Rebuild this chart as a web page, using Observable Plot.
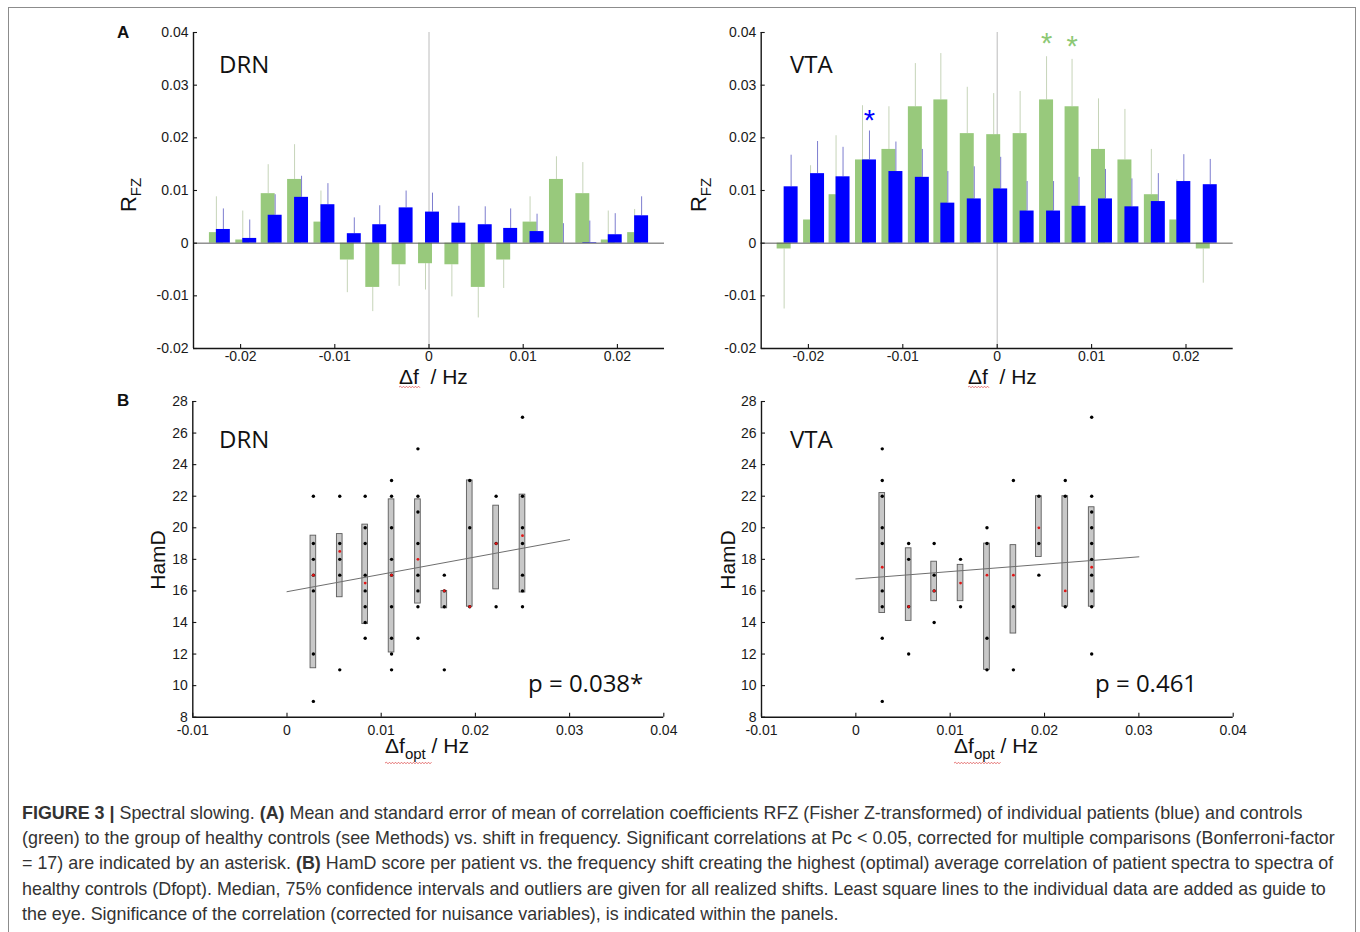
<!DOCTYPE html>
<html>
<head>
<meta charset="utf-8">
<script src="https://cdn.jsdelivr.net/npm/d3@7"></script>
<script src="https://cdn.jsdelivr.net/npm/@observablehq/plot@0.6"></script>
<style>
html,body{margin:0;padding:0;background:#fff;}
#fig{position:relative;width:1360px;height:932px;overflow:hidden;background:#fff;}
#frame{position:absolute;left:8px;top:7px;width:1348px;height:1000px;border:1.5px solid #8c8c8c;box-sizing:border-box;}
.panel{position:absolute;}
.panel svg{background:transparent !important;overflow:visible;}
#caption{position:absolute;left:22px;top:801px;font-family:"Liberation Sans",Arial,sans-serif;font-size:17.9px;line-height:25.2px;color:#333;white-space:nowrap;}
#overlay{position:absolute;left:0;top:0;pointer-events:none;}
</style>
</head>
<body>
<div id="fig">
  <div id="frame"></div>
  <div id="tl" class="panel" style="left:100px;top:10px"></div>
  <div id="tr" class="panel" style="left:668px;top:10px"></div>
  <div id="bl" class="panel" style="left:100px;top:380px"></div>
  <div id="br" class="panel" style="left:668px;top:380px"></div>
  <svg id="overlay" width="1360" height="932"></svg>
  <div id="caption"><b>FIGURE 3 |</b> Spectral slowing. <b>(A)</b> Mean and standard error of mean of correlation coefficients RFZ (Fisher Z-transformed) of individual patients (blue) and controls<br>(green) to the group of healthy controls (see Methods) vs. shift in frequency. Significant correlations at Pc &lt; 0.05, corrected for multiple comparisons (Bonferroni-factor<br>= 17) are indicated by an asterisk. <b>(B)</b> HamD score per patient vs. the frequency shift creating the highest (optimal) average correlation of patient spectra to spectra of<br>healthy controls (Dfopt). Median, 75% confidence intervals and outliers are given for all realized shifts. Least square lines to the individual data are added as guide to<br>the eye. Significance of the correlation (corrected for nuisance variables), is indicated within the panels.</div>
</div>
<script>
// ---------------- data: panel A ----------------
const shiftHz = [-0.0222,-0.0194,-0.0167,-0.0139,-0.0111,-0.0083,-0.0056,-0.0028,0,0.0028,0.0056,0.0083,0.0111,0.0139,0.0167,0.0194,0.0222];

const drnPatients    = [0.0026,0.0009,0.0053,0.0087,0.0073,0.0018,0.0035,0.0067,0.0059,0.0038,0.0035,0.0028,0.0022,0.0000,0.0001,0.0016,0.0052];
const drnPatientsSem = [0.0039,0.0035,0.0039,0.0040,0.0040,0.0030,0.0036,0.0032,0.0036,0.0032,0.0034,0.0037,0.0033,0.0037,0.0041,0.0040,0.0036];
const drnControls    = [0.0020,0.0006,0.0094,0.0121,0.0040,-0.0032,-0.0084,-0.0041,-0.0039,-0.0041,-0.0084,-0.0032,0.0040,0.0121,0.0094,0.0006,0.0020];
const drnControlsSem = [0.0068,0.0055,0.0055,0.0066,0.0059,0.0062,0.0046,0.0041,0.0050,0.0061,0.0058,0.0054,0.0048,0.0043,0.0059,0.0055,0.0044];

const vtaPatients    = [0.0107,0.0132,0.0126,0.0158,0.0136,0.0125,0.0076,0.0084,0.0103,0.0061,0.0061,0.0070,0.0084,0.0069,0.0079,0.0117,0.0111];
const vtaPatientsSem = [0.0060,0.0061,0.0056,0.0055,0.0056,0.0053,0.0060,0.0061,0.0060,0.0056,0.0056,0.0055,0.0056,0.0053,0.0053,0.0051,0.0048];
const vtaControls    = [-0.0011,0.0044,0.0092,0.0158,0.0178,0.0259,0.0272,0.0208,0.0206,0.0208,0.0272,0.0259,0.0178,0.0158,0.0092,0.0044,-0.0011];
const vtaControlsSem = [0.0114,0.0103,0.0112,0.0103,0.0081,0.0082,0.0088,0.0088,0.0078,0.0080,0.0082,0.0090,0.0096,0.0096,0.0086,0.0076,0.0065];
const vtaSigPatients = [-0.0139];          // shifts marked with a blue asterisk
const vtaSigControls = [0.0056, 0.0083];   // shifts marked with a green asterisk

const xTicksA = [-0.02,-0.01,0,0.01,0.02];
const yTicksA = [-0.02,-0.01,0,0.01,0.02,0.03,0.04];

// ---------------- data: panel B ----------------
const optShiftHz = [0.0028,0.0056,0.0083,0.0111,0.0139,0.0167,0.0194,0.0222,0.0250];

const drnBoxLow  = [11.1,15.6,13.9,12.1,15.2,14.9,15.0,16.1,15.9];
const drnBoxHigh = [19.5,19.6,20.2,21.8,21.8,16.0,23.0,21.4,22.1];
const drnMedian  = [17,18.5,16.5,17,18,16,15,19,19.5];
const drnScores  = [[22,19,18,17,16,12,9],[22,19,18,17,11],[22,20,19,17,16,15,14,13],[23,22,20,18,17,15,13,12,11],[25,22,21,19,17,16,15,13],[17,16,15,11],[23,20,15],[22,19,15],[27,22,20,19,17,16,15]];
const drnFitX = [0, 0.03];
const drnFitY = [15.95, 19.25];

const vtaBoxLow  = [14.6,14.1,15.35,15.35,11.0,13.3,18.15,15.0,15.0];
const vtaBoxHigh = [22.2,18.7,17.85,17.65,19.0,18.9,22.0,22.0,21.3];
const vtaMedian  = [17.5,15,16,16.5,17,17,20,16,17.5];
const vtaScores  = [[25,23,22,20,19,16,15,13,9],[19,18,15,12],[19,17,16,14],[18,15],[20,19,13,11],[23,15,11],[22,19,17],[23,22,15],[27,22,21,20,19,18,17,16,15,12]];
const vtaFitX = [0, 0.03];
const vtaFitY = [16.76, 18.16];

const xTicksB = [-0.01,0,0.01,0.02,0.03,0.04];
const yTicksB = [8,10,12,14,16,18,20,22,24,26,28];

// ---------------- styling ----------------
const GREEN = "#98c97c", BLUE = "#0000ff", GREEN_ERR = "#c6d4b9", BLUE_ERR = "#7d7dcf";
const AX = "#161616";
const fmt = d => String(+d.toFixed(4));
const plotStyle = {fontFamily: '"Liberation Sans", Arial, sans-serif', fontSize: "14px", color: "#1a1a1a", background: "transparent", overflow: "visible"};

function frameMarks(xd, yd, xt, yt, pw, ph, xpad) {
  return [
    Plot.ruleX([xd[0]], {x: d => d, stroke: AX, strokeWidth: 1.4}),
    Plot.ruleY([yd[0]], {y: d => d, stroke: AX, strokeWidth: 1.4}),
    Plot.tickY(yt, {y: d => d, insetRight: pw - 4, stroke: AX, strokeWidth: 1.1}),
    Plot.tickX(xt, {x: d => d, insetTop: ph - 4, stroke: AX, strokeWidth: 1.1}),
    Plot.axisY({ticks: yt, tickSize: 0, tickPadding: 5, tickFormat: fmt, fontSize: 14, label: null}),
    Plot.axisX({ticks: xt, tickSize: 0, tickPadding: xpad, tickFormat: fmt, fontSize: 14, label: null})
  ];
}

function barPanel(el, patients, patientsSem, controls, controlsSem, sigP, sigC, margins) {
  const W = 580, H = 380;
  const {ml, mr, mt, mb} = margins;
  const pw = W - ml - mr, ph = H - mt - mb;
  const xd = [-0.025, 0.025], yd = [-0.02, 0.04];
  const off = 0.00037, hw = 0.00074;
  const rows = shiftHz.map((s, i) => ({s, p: patients[i], pe: patientsSem[i], c: controls[i], ce: controlsSem[i]}));
  const errEnd = (v, e) => v + (v >= 0 ? e : -e);
  const sigPr = rows.filter(r => sigP.includes(r.s));
  const sigCr = rows.filter(r => sigC.includes(r.s));
  const chart = Plot.plot({
    width: W, height: H, marginLeft: ml, marginRight: mr, marginTop: mt, marginBottom: mb,
    style: plotStyle,
    x: {domain: xd}, y: {domain: yd},
    marks: [
      Plot.ruleX([0], {x: d => d, stroke: "#bcbcbc", strokeWidth: 1}),
      Plot.ruleX(rows, {x: d => d.s - off, y1: "c", y2: d => errEnd(d.c, d.ce), stroke: GREEN_ERR, strokeWidth: 1}),
      Plot.rect(rows, {x1: d => d.s - off - hw, x2: d => d.s - off + hw, y1: d => 0, y2: "c", fill: GREEN}),
      Plot.ruleX(rows, {x: d => d.s + off, y1: "p", y2: d => errEnd(d.p, d.pe), stroke: BLUE_ERR, strokeWidth: 1}),
      Plot.rect(rows, {x1: d => d.s + off - hw, x2: d => d.s + off + hw, y1: d => 0, y2: "p", fill: BLUE}),
      Plot.ruleY([0], {y: d => d, stroke: "#5a5a5a", strokeWidth: 1}),
      Plot.text(sigPr, {x: d => d.s + off, y: d => errEnd(d.p, d.pe) + 0.0028, text: d => "*", fill: BLUE, fontSize: 29, dy: 4}),
      Plot.text(sigCr, {x: d => d.s - off, y: d => errEnd(d.c, d.ce) + 0.003, text: d => "*", fill: "#8cc874", fontSize: 29, dy: 3}),
      ...frameMarks(xd, yd, xTicksA, yTicksA, pw, ph, 3)
    ]
  });
  document.getElementById(el).append(chart);
}

function boxPanel(el, low, high, med, scores, fitX, fitY, margins) {
  const W = 580, H = 380;
  const {ml, mr, mt, mb} = margins;
  const pw = W - ml - mr, ph = H - mt - mb;
  const xd = [-0.01, 0.04], yd = [8, 28];
  const hw = 0.0003;
  const boxes = optShiftHz.map((s, i) => ({s, lo: low[i], hi: high[i], med: med[i]}));
  const pts = optShiftHz.flatMap((s, i) => scores[i].map(v => ({s, v})));
  const fit = fitX.map((x, i) => ({x, y: fitY[i]}));
  const chart = Plot.plot({
    width: W, height: H, marginLeft: ml, marginRight: mr, marginTop: mt, marginBottom: mb,
    style: plotStyle,
    x: {domain: xd}, y: {domain: yd},
    marks: [
      Plot.rect(boxes, {x1: d => d.s - hw, x2: d => d.s + hw, y1: "lo", y2: "hi", fill: "#c8c8c8", stroke: "#5c5c5c", strokeWidth: 0.9}),
      Plot.line(fit, {x: "x", y: "y", stroke: "#6e6e6e", strokeWidth: 1}),
      Plot.dot(pts, {x: "s", y: "v", r: 1.7, fill: "#000", stroke: "none"}),
      Plot.dot(boxes, {x: "s", y: "med", r: 1.4, fill: "#e01515", stroke: "none"}),
      ...frameMarks(xd, yd, xTicksB, yTicksB, pw, ph, 8)
    ]
  });
  document.getElementById(el).append(chart);
}

barPanel("tl", drnPatients, drnPatientsSem, drnControls, drnControlsSem, [], [], {ml: 93, mr: 16, mt: 22, mb: 42});
barPanel("tr", vtaPatients, vtaPatientsSem, vtaControls, vtaControlsSem, vtaSigPatients, vtaSigControls, {ml: 92.7, mr: 15.3, mt: 22, mb: 42});
boxPanel("bl", drnBoxLow, drnBoxHigh, drnMedian, drnScores, drnFitX, drnFitY, {ml: 92.3, mr: 16.7, mt: 21, mb: 43.3});
boxPanel("br", vtaBoxLow, vtaBoxHigh, vtaMedian, vtaScores, vtaFitX, vtaFitY, {ml: 93, mr: 15.3, mt: 21, mb: 43.3});

// ---------------- labels overlay ----------------
const ov = d3.select("#overlay");
const SANS = '"Liberation Sans", Arial, sans-serif';
const ROUND = '"Open Sans", "Noto Sans", sans-serif';
function label(x, y, s, o = {}) {
  return ov.append("text").attr("x", x).attr("y", y)
    .attr("font-family", o.family || SANS).attr("font-size", o.size || 21)
    .attr("font-weight", o.weight || "normal").attr("fill", o.fill || "#111")
    .attr("text-anchor", o.anchor || "start").text(s);
}
function squiggle(x0, x1, y) {
  let d = `M${x0},${y}`, up = true;
  for (let x = x0 + 1.5; x <= x1; x += 1.5) { d += `L${x},${y + (up ? -0.8 : 0.8)}`; up = !up; }
  ov.append("path").attr("d", d).attr("fill", "none").attr("stroke", "#e05555").attr("stroke-width", 0.8);
}
// panel letters
label(117, 38, "A", {size: 17, weight: "bold"});
label(117, 406, "B", {size: 17, weight: "bold"});
// region names
label(219, 73, "DRN", {family: ROUND, size: 24});
label(790, 73, "VTA", {family: ROUND, size: 24});
label(219, 448, "DRN", {family: ROUND, size: 24});
label(790, 448, "VTA", {family: ROUND, size: 24});
// p values
label(528, 692, "p = 0.038*", {family: ROUND, size: 24});
label(1095, 692, "p = 0.461", {family: ROUND, size: 24});
// y labels
function rfz(x, y) {
  const t = ov.append("text").attr("transform", `translate(${x},${y}) rotate(-90)`)
    .attr("text-anchor", "middle").attr("font-family", SANS).attr("font-size", 22).attr("fill", "#111");
  t.append("tspan").text("R");
  t.append("tspan").attr("font-size", 15).attr("dy", 5).text("FZ");
}
rfz(135.5, 195);
rfz(706, 195);
function hamd(x, y) {
  ov.append("text").attr("transform", `translate(${x},${y}) rotate(-90)`)
    .attr("text-anchor", "middle").attr("font-family", SANS).attr("font-size", 21).attr("fill", "#111").text("HamD");
}
hamd(165, 560);
hamd(735, 560);
// x labels
function dfLabel(x, y) {
  const t = ov.append("text").attr("x", x).attr("y", y).attr("font-family", SANS).attr("font-size", 21).attr("fill", "#111")
    .style("white-space", "pre");
  t.append("tspan").text("\u0394f  / Hz");
  squiggle(x, x + 22, y + 3);
}
dfLabel(399, 384);
dfLabel(968, 384);
function dfOptLabel(x, y) {
  const t = ov.append("text").attr("x", x).attr("y", y).attr("font-family", SANS).attr("font-size", 21).attr("fill", "#111")
    .style("white-space", "pre");
  t.append("tspan").text("\u0394f");
  t.append("tspan").attr("font-size", 15).attr("dy", 6).text("opt");
  t.append("tspan").attr("dy", -6).text(" / Hz");
  squiggle(x, x + 47, y + 10);
}
dfOptLabel(385, 753);
dfOptLabel(954, 753);
</script>
</body>
</html>
